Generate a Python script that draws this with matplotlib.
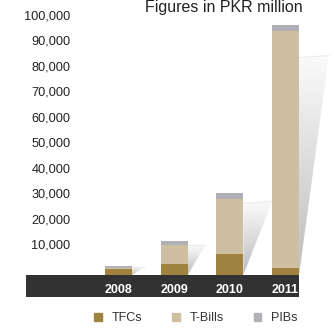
import numpy as np
import matplotlib
matplotlib.use('Agg')
import matplotlib.pyplot as plt
import matplotlib.transforms as mtransforms
from matplotlib.patches import Polygon, Patch
from matplotlib.colors import LinearSegmentedColormap

plt.rcParams['font.family'] = ['Liberation Sans', 'DejaVu Sans']

years = ['2008', '2009', '2010', '2011']
tfcs = np.array([2400, 4300, 8100, 2900])
tbills = np.array([500, 7300, 21700, 92700])
pibs = np.array([600, 1700, 2500, 2400])
ticks = [10000, 20000, 30000, 40000, 50000, 60000, 70000, 80000, 90000, 100000]

c_tfc = '#a0833f'
c_tb = '#cdbf9f'
c_pib = '#b2afb6'
c_band = '#323232'

fig = plt.figure(figsize=(3.34, 3.29), dpi=100)
ax = fig.add_axes([26/334, 32/329, 308/334, 297/329])

idx = np.arange(len(years))
w = 0.485
ymin, ymax = -8630, 107840
xmin, xmax = -1.66, 3.87

# gradient shadows behind bars
shade = LinearSegmentedColormap.from_list('shade', ['#bcbcbc', '#fbfbfb'])
grad = np.linspace(0, 1, 256).reshape(-1, 1)
totals = tfcs + tbills + pibs
for i, t in zip(idx, totals):
    top = 0.87 * t
    sw = w * min(1.1, 0.35 + top / 39200)
    xr = i + w / 2
    lift = 800 if t > 20000 else 0
    poly = Polygon([(xr, top), (xr + sw, top + lift), (xr, 0)], closed=True,
                   facecolor='none', edgecolor='none')
    ax.add_patch(poly)
    im = ax.imshow(grad, extent=[xr, xr + sw, 0, top + lift], origin='lower',
                   aspect='auto', cmap=shade, zorder=1)
    im.set_clip_path(poly)
    ax.plot([xr, xr + sw], [top, top + lift], color='#ececec', lw=0.8, zorder=1)

ax.bar(idx, tfcs, w, color=c_tfc, zorder=2)
ax.bar(idx, tbills, w, bottom=tfcs, color=c_tb, zorder=2)
ax.bar(idx, pibs, w, bottom=tfcs + tbills, color=c_pib, zorder=2)

# dark band with year labels
ax.fill_between([xmin, idx[-1] + w / 2], ymin, 0, color=c_band, lw=0, zorder=3)
for i, yr in zip(idx, years):
    ax.text(i, ymin + 1600, yr, color='white', fontsize=9, fontweight='bold',
            ha='center', va='baseline', zorder=4)

# y tick labels
trans = mtransforms.blended_transform_factory(ax.transAxes, ax.transData)
trans = mtransforms.offset_copy(trans, fig=fig, y=3.5, units='dots')
for v in ticks:
    ax.text(0.1445, v, f'{v:,}', transform=trans, ha='right', va='center',
            fontsize=9.2, color='#222222')

ax.set_xlim(xmin, xmax)
ax.set_ylim(ymin, ymax)
ax.axis('off')

fig.text(224/334, 1 - 12/329, 'Figures in PKR million', ha='center',
         va='baseline', fontsize=11.5, color='#222222')

handles = [Patch(color=c_tfc), Patch(color=c_tb), Patch(color=c_pib)]
fig.legend(handles, ['TFCs', 'T-Bills', 'PIBs'], loc='center',
           bbox_to_anchor=(196/334, 1 - 318/329), ncol=3, frameon=False,
           fontsize=9, handlelength=0.6, handleheight=0.6, handletextpad=0.8,
           columnspacing=2.4, labelcolor='#333333')

fig.savefig('out.png', dpi=100)
